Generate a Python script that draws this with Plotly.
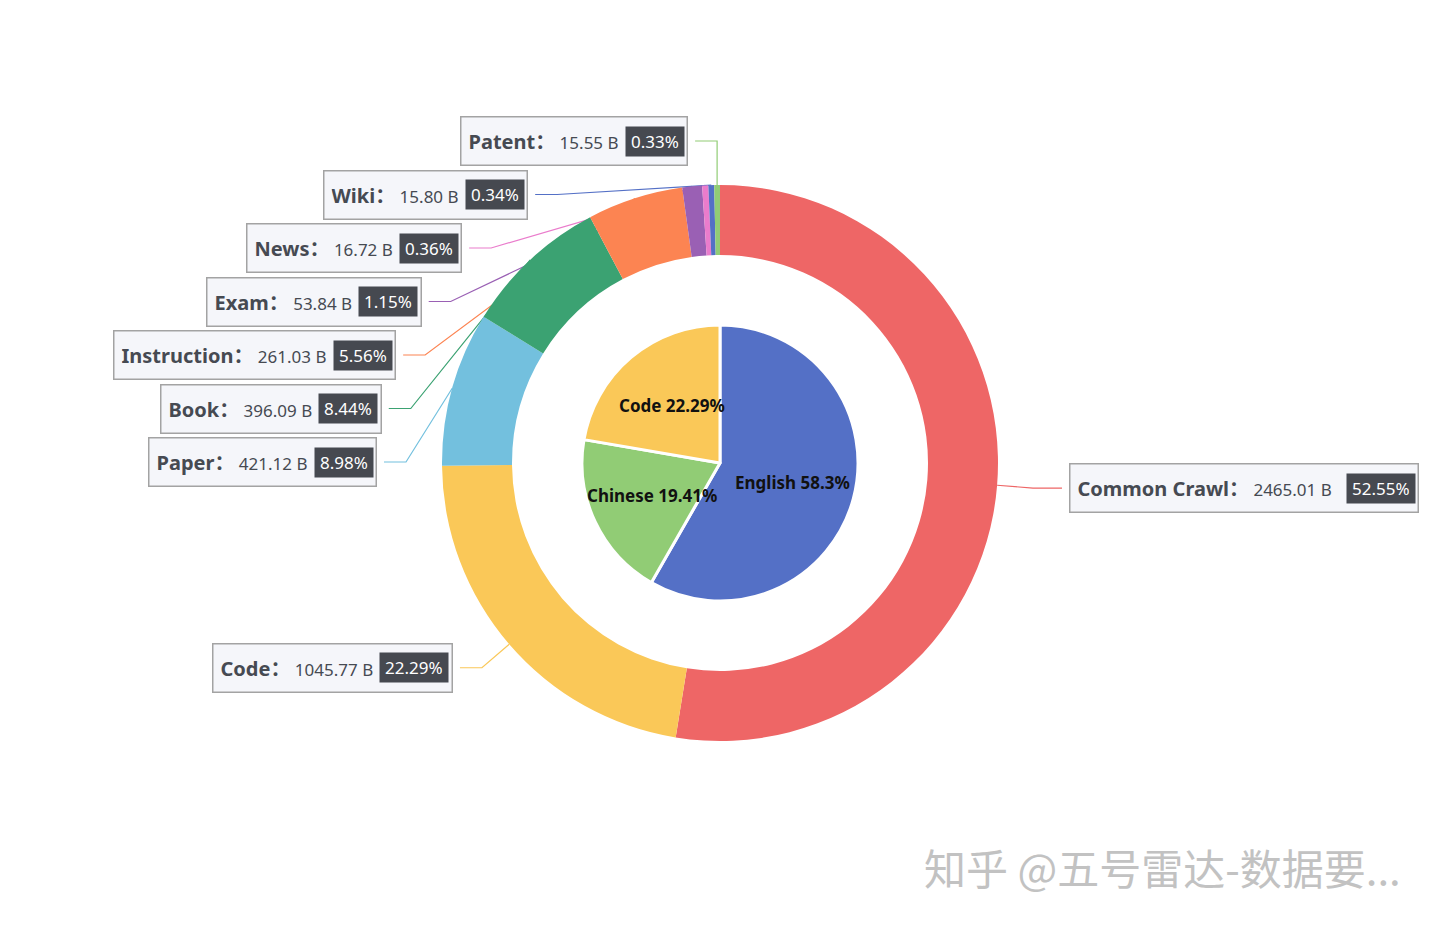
import math
import plotly.graph_objects as go

# ---------------- data ----------------
outer_labels = ["Common Crawl", "Code", "Paper", "Book", "Instruction", "Exam", "News", "Wiki", "Patent"]
outer_values = [2465.01, 1045.77, 421.12, 396.09, 261.03, 53.84, 16.72, 15.80, 15.55]
outer_colors = ["#ee6666", "#fac858", "#73c0de", "#3ba272", "#fc8452", "#9a60b4", "#ea7ccc", "#5470c6", "#91cc75"]

inner_labels = ["English", "Chinese", "Code"]
inner_values = [58.3, 19.41, 22.29]
inner_colors = ["#5470c6", "#91cc75", "#fac858"]

unit = "B"
watermark = "知乎 @五号雷达-数据要..."

# ---------------- layout constants (px) ----------------
W, H = 1440, 926
CX, CY = 720, 463
R_OUT = 278
R_HOLE = 208
R_IN = 138
R_ELBOW = 314
LEN2 = {-1: 22, 1: 29}
GAP = 7
ROW = 53.5
LIFT = 8
INNER_LABEL_R = 0.545

FONT = "Noto Sans, Noto Sans CJK SC"
TXT = "#464a52"
BADGE = "#464950"
BOXBG = "#f5f6fa"
BOXLINE = "#a3a3a3"
BW = 1.5      # box border width
PAD = 7       # box padding
BPAD = 5      # badge padding
SP = "\u00a0"


def px(x):
    return x / W


def py(y):
    return 1 - y / H


# rough advance widths (em) for Noto Sans, used only to size right-hand boxes
REG = {".": 0.268, " ": 0.26, SP: 0.26, "%": 0.838, "B": 0.648}
BOLD = {"C": 0.66, "o": 0.62, "m": 0.95, "n": 0.66, "r": 0.44, "a": 0.60, "w": 0.85,
        "l": 0.30, " ": 0.26, "：": 1.0}


def text_width(s, size, bold=False):
    w = 0.0
    for ch in s:
        if bold:
            w += BOLD.get(ch, 0.62)
        elif ch.isdigit():
            w += 0.572
        else:
            w += REG.get(ch, 0.56)
    return w * size


fig = go.Figure()

fig.add_trace(go.Pie(
    labels=outer_labels, values=outer_values,
    marker=dict(colors=outer_colors, line=dict(width=0)),
    hole=R_HOLE / R_OUT, sort=False, direction="clockwise", rotation=0,
    textinfo="none", showlegend=False, hoverinfo="label+value+percent",
    domain=dict(x=[px(CX - R_OUT), px(CX + R_OUT)], y=[py(CY + R_OUT), py(CY - R_OUT)]),
))

fig.add_trace(go.Pie(
    labels=inner_labels, values=inner_values,
    marker=dict(colors=inner_colors, line=dict(width=3, color="white")),
    sort=False, direction="clockwise", rotation=0,
    textinfo="none", showlegend=False,
    domain=dict(x=[px(CX - R_IN), px(CX + R_IN)], y=[py(CY + R_IN), py(CY - R_IN)]),
))

annotations = []
shapes = []

# ---------- outer labels ----------
total = sum(outer_values)
items = []
cum = 0.0
for name, v, c in zip(outer_labels, outer_values, outer_colors):
    mid = (cum + v / 2) / total * 2 * math.pi
    cum += v
    s, co = math.sin(mid), math.cos(mid)
    items.append(dict(
        name=name, v=v, c=c, pct=f"{v / total * 100:.2f}%",
        ax=CX + R_OUT * s, ay=CY - R_OUT * co,
        ny=CY - R_ELBOW * co, side=1 if s > 0 else -1,
    ))


def resolve(group):
    group.sort(key=lambda d: d["ny"])
    chains = []
    for d in group:
        if chains and d["ny"] < chains[-1][-1]["y"] + ROW:
            d["y"] = chains[-1][-1]["y"] + ROW
            chains[-1].append(d)
        else:
            d["y"] = d["ny"]
            chains.append([d])
    for ch in chains:
        if len(ch) > 1:
            for d in ch:
                d["y"] -= LIFT


resolve([d for d in items if d["side"] < 0])
resolve([d for d in items if d["side"] > 0])

for d in items:
    side = d["side"]
    dy = d["y"] - CY
    ex = CX + side * math.sqrt(max(R_ELBOW ** 2 - dy ** 2, 0))
    ex = min(ex, d["ax"]) if side < 0 else max(ex, d["ax"])
    lx = ex + side * LEN2[side]
    bx = lx + side * GAP
    shapes.append(dict(
        type="path", xref="paper", yref="paper", layer="below",
        path=f"M {px(d['ax'])} {py(d['ay'])} L {px(ex)} {py(d['y'])} L {px(lx)} {py(d['y'])}",
        line=dict(color=d["c"], width=1.2),
    ))
    name_txt = f"{d['name']}："
    val_txt = f"{SP}{d['v']:.2f} {unit}{SP * 3}"
    ann = dict(
        x=px(bx), y=py(d["y"]), xref="paper", yref="paper",
        yanchor="middle", showarrow=False, align="left",
        font=dict(family=FONT, size=17, color=TXT),
        bgcolor=BOXBG, bordercolor=BOXLINE, borderwidth=BW, borderpad=PAD,
        height=33,
    )
    if side < 0:
        # invisible copy of the badge text reserves its room inside the box
        ann["text"] = (f"<span style='font-size:20px'><b>{name_txt}</b></span>{val_txt}"
                       f"<span style='color:rgba(0,0,0,0)'>{d['pct']}</span>")
        ann["xanchor"] = "right"
        brx = bx - BW - PAD + BPAD
    else:
        ann["text"] = f"<span style='font-size:20px'><b>{name_txt}</b></span>{val_txt}"
        ann["xanchor"] = "left"
        tw = (text_width(name_txt, 20, True) + text_width(val_txt, 17)
              + text_width(d["pct"], 17)) + 8
        ann["width"] = tw
        brx = bx + BW + PAD + tw + BPAD
    annotations.append(ann)
    annotations.append(dict(
        x=px(brx), y=py(d["y"]), xref="paper", yref="paper",
        xanchor="right", yanchor="middle", showarrow=False,
        text=d["pct"], font=dict(family=FONT, size=17, color="white"),
        bgcolor=BADGE, borderpad=BPAD, height=19,
    ))

# ---------- inner labels ----------
tot_in = sum(inner_values)
cum = 0.0
for name, v in zip(inner_labels, inner_values):
    mid = (cum + v / 2) / tot_in * 2 * math.pi
    cum += v
    x = CX + R_IN * INNER_LABEL_R * math.sin(mid)
    y = CY - R_IN * INNER_LABEL_R * math.cos(mid)
    annotations.append(dict(
        x=px(x), y=py(y), xref="paper", yref="paper", showarrow=False,
        xanchor="center", yanchor="middle",
        text=f"<b>{name} {v}%</b>", font=dict(family=FONT, size=17, color="#111111"),
    ))

# ---------- watermark ----------
annotations.append(dict(
    x=px(1162), y=py(866), xref="paper", yref="paper", showarrow=False,
    xanchor="center", yanchor="middle", text=watermark,
    font=dict(family="Noto Sans CJK SC", size=42, color="#c2c2c2"),
))

fig.update_layout(
    width=W, height=H, margin=dict(l=0, r=0, t=0, b=0),
    paper_bgcolor="white", plot_bgcolor="white",
    annotations=annotations, shapes=shapes, showlegend=False,
)

fig.write_html(
    "out.html",
    config={"displayModeBar": False},
    post_script="document.body.style.margin='0';document.body.style.overflow='hidden';",
)
